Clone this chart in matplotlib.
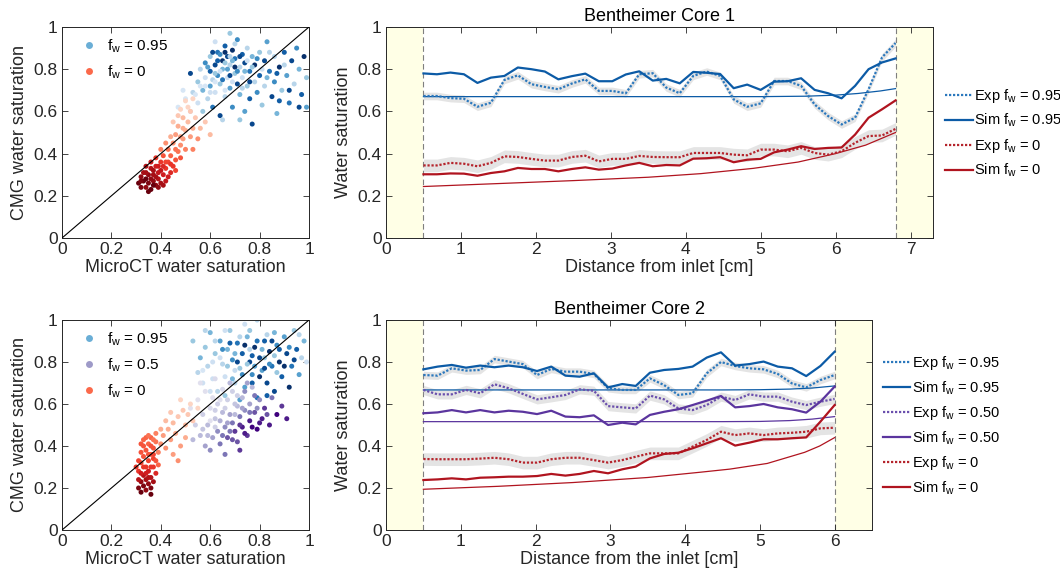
import numpy as np
import matplotlib
matplotlib.use("Agg")
import matplotlib.pyplot as plt
from matplotlib.lines import Line2D

plt.rcParams['font.family'] = ['Liberation Sans', 'DejaVu Sans']
plt.rcParams['mathtext.fontset'] = 'custom'
plt.rcParams['mathtext.rm'] = 'Liberation Sans'
plt.rcParams['mathtext.it'] = 'Liberation Sans'

# ---------------- scatter data (x = microCT, y = CMG, shade 0..1) ----------------
top_blue = [
    (0.52,0.78,0.9),(0.55,0.74,0.3),(0.56,0.80,0.2),(0.57,0.70,0.4),(0.58,0.76,0.1),(0.58,0.83,0.6),(0.59,0.66,0.2),(0.60,0.72,0.5),(0.60,0.79,0.8),(0.60,0.86,0.3),
    (0.61,0.62,0.7),(0.61,0.75,0.2),(0.62,0.82,0.9),(0.62,0.69,0.1),(0.63,0.77,0.6),(0.63,0.88,0.7),(0.64,0.58,0.9),(0.64,0.73,0.3),(0.65,0.84,1.0),(0.65,0.80,0.4),
    (0.66,0.67,0.2),(0.66,0.91,0.8),(0.67,0.76,0.1),(0.67,0.86,0.9),(0.68,0.71,0.5),(0.68,0.82,0.2),(0.69,0.62,0.6),(0.69,0.89,1.0),(0.70,0.78,0.3),(0.70,0.85,0.7),
    (0.71,0.73,0.9),(0.71,0.94,0.6),(0.72,0.81,0.2),(0.72,0.68,0.4),(0.73,0.87,0.8),(0.73,0.76,0.1),(0.74,0.60,0.5),(0.74,0.83,0.9),(0.75,0.72,0.3),(0.75,0.90,0.2),
    (0.76,0.79,0.7),(0.76,0.66,0.8),(0.77,0.86,0.4),(0.77,0.54,0.9),(0.78,0.74,0.2),(0.78,0.82,1.0),(0.79,0.69,0.6),(0.80,0.88,0.3),(0.80,0.77,0.8),(0.81,0.63,0.3),
    (0.82,0.84,0.9),(0.82,0.72,0.2),(0.83,0.93,0.5),(0.84,0.79,0.7),(0.85,0.67,0.9),(0.86,0.86,0.2),(0.86,0.74,0.6),(0.87,0.59,0.4),(0.88,0.81,1.0),(0.89,0.70,0.3),
    (0.90,0.88,0.8),(0.91,0.77,0.5),(0.92,0.64,0.7),(0.93,0.84,0.9),(0.94,0.73,0.2),(0.95,0.90,0.6),(0.96,0.80,0.4),(0.97,0.68,0.8),(0.98,0.86,1.0),(0.99,0.62,0.5),
    (0.99,0.76,0.3),(0.62,0.93,0.1),(0.68,0.97,0.3),(0.55,0.64,0.1),(0.53,0.69,0.2),(0.57,0.60,0.3),(0.65,0.56,0.2),(0.72,0.56,0.3),
    (0.47,0.62,0.05),(0.50,0.66,0.05),(0.52,0.60,0.1),(0.49,0.70,0.05),(0.54,0.68,0.05),(0.56,0.72,0.05),
    (0.59,0.81,0.5),(0.61,0.88,0.9),(0.62,0.78,0.3),(0.63,0.84,0.8),(0.64,0.79,0.1),(0.64,0.87,0.6),(0.65,0.75,0.7),(0.66,0.83,0.3),(0.66,0.88,1.0),(0.67,0.80,0.5),
    (0.68,0.86,0.2),(0.68,0.77,0.9),(0.69,0.84,0.4),(0.70,0.81,1.0),(0.70,0.92,0.2),(0.71,0.79,0.6),(0.72,0.86,0.9),(0.73,0.71,0.2),(0.74,0.79,0.4),(0.75,0.84,0.1),
    (0.76,0.74,0.9),(0.77,0.81,0.3),(0.79,0.85,0.6),(0.81,0.80,0.1),(0.83,0.76,0.4),(0.84,0.88,0.2),(0.87,0.78,0.8),(0.90,0.82,0.2),(0.62,0.74,0.05),(0.60,0.69,0.1),
    (0.58,0.72,0.05),(0.66,0.70,0.05),(0.69,0.74,0.1),(0.92,0.70,0.9),(0.96,0.62,0.9),(0.88,0.65,0.8),
]
top_red = [
    (0.31,0.26,1.0),(0.32,0.24,0.95),(0.32,0.29,0.9),(0.33,0.27,1.0),(0.33,0.31,0.85),(0.34,0.24,0.9),(0.34,0.28,1.0),(0.35,0.26,0.95),(0.35,0.30,0.9),(0.36,0.23,1.0),
    (0.36,0.33,0.8),(0.37,0.27,0.9),(0.37,0.30,0.85),(0.38,0.25,0.9),(0.38,0.34,0.7),(0.39,0.28,0.8),(0.39,0.31,0.75),(0.40,0.26,0.85),(0.40,0.36,0.6),(0.41,0.30,0.7),
    (0.41,0.39,0.5),(0.42,0.33,0.6),(0.42,0.27,0.75),(0.43,0.36,0.55),(0.43,0.42,0.4),(0.44,0.31,0.65),(0.44,0.39,0.45),(0.45,0.34,0.6),(0.45,0.45,0.3),(0.46,0.37,0.5),
    (0.46,0.49,0.25),(0.47,0.41,0.4),(0.47,0.53,0.2),(0.48,0.44,0.3),(0.48,0.38,0.5),(0.49,0.47,0.25),(0.49,0.57,0.15),(0.50,0.51,0.2),(0.50,0.42,0.35),(0.51,0.55,0.15),
    (0.52,0.48,0.25),(0.52,0.60,0.1),(0.53,0.52,0.2),(0.54,0.57,0.1),(0.55,0.47,0.3),(0.44,0.48,0.2),(0.42,0.45,0.3),(0.40,0.42,0.35),(0.45,0.55,0.1),(0.48,0.61,0.05),
    (0.50,0.65,0.05),(0.53,0.42,0.35),(0.56,0.52,0.15),(0.58,0.55,0.1),(0.60,0.49,0.15),(0.34,0.34,0.8),(0.36,0.36,0.7),(0.38,0.38,0.6),(0.35,0.22,1.0),(0.39,0.24,0.9),
    (0.37,0.32,0.85),(0.41,0.34,0.65),(0.43,0.29,0.7),(0.46,0.32,0.55),(0.47,0.58,0.1),(0.51,0.62,0.05),(0.53,0.66,0.05),(0.49,0.52,0.2),
    (0.32,0.27,0.95),(0.34,0.31,0.85),(0.36,0.28,0.9),(0.37,0.25,1.0),(0.38,0.29,0.85),(0.40,0.32,0.75),(0.42,0.36,0.55),(0.44,0.35,0.6),(0.46,0.42,0.4),(0.48,0.48,0.25),
    (0.39,0.34,0.7),(0.41,0.25,0.85),
]
bot_blue = [
    (0.53,0.90,0.3),(0.55,0.75,0.2),(0.56,0.82,0.4),(0.57,0.70,0.1),(0.58,0.87,0.3),(0.59,0.78,0.2),(0.60,0.94,0.4),(0.61,0.72,0.1),(0.62,0.84,0.3),(0.63,0.66,0.2),
    (0.64,0.90,0.5),(0.65,0.79,0.2),(0.66,0.73,0.1),(0.67,0.86,0.4),(0.68,0.95,0.3),(0.69,0.81,0.6),(0.70,0.70,0.2),(0.71,0.89,0.7),(0.72,0.77,0.3),(0.73,0.84,0.8),
    (0.74,0.68,0.5),(0.75,0.92,0.4),(0.76,0.80,0.9),(0.77,0.74,0.6),(0.78,0.87,1.0),(0.79,0.63,0.7),(0.80,0.82,0.9),(0.81,0.76,0.5),(0.82,0.90,0.8),(0.83,0.70,0.9),
    (0.84,0.85,1.0),(0.85,0.78,0.7),(0.86,0.66,0.9),(0.87,0.88,0.6),(0.88,0.80,1.0),(0.89,0.73,0.8),(0.90,0.92,0.5),(0.91,0.84,0.9),(0.92,0.68,1.0),(0.93,0.78,0.7),
    (0.94,0.95,0.3),(0.95,0.86,0.8),(0.96,0.74,0.5),(0.97,0.82,0.2),(0.98,0.90,0.4),(0.99,0.80,0.1),(0.79,1.00,0.2),(0.74,0.98,0.1),(0.60,0.66,0.1),(0.66,0.64,0.3),
    (0.72,0.62,0.5),(0.77,0.70,0.8),(0.83,0.64,0.8),(0.70,0.76,0.15),(0.64,0.82,0.1),(0.58,0.95,0.2),(0.76,0.86,0.2),(0.82,0.82,0.3),(0.87,0.75,0.3),(0.86,0.94,0.4),
    (0.62,0.90,0.2),(0.65,0.86,0.6),(0.67,0.78,0.3),(0.68,0.89,0.8),(0.70,0.84,0.4),(0.71,0.80,0.9),(0.72,0.92,0.2),(0.73,0.74,0.6),(0.74,0.88,1.0),(0.75,0.79,0.3),
    (0.76,0.95,0.3),(0.77,0.83,0.8),(0.78,0.78,0.5),(0.79,0.90,0.7),(0.80,0.73,1.0),(0.81,0.86,0.4),(0.82,0.77,0.9),(0.83,0.93,0.2),(0.84,0.79,0.6),(0.85,0.90,0.9),
    (0.86,0.83,0.3),(0.88,0.86,0.8),(0.90,0.78,1.0),(0.92,0.87,0.6),(0.94,0.81,0.9),(0.96,0.93,0.2),(0.66,0.95,0.1),(0.61,0.80,0.1),(0.57,0.76,0.05),(0.69,0.72,0.4),
]
bot_purple = [
    (0.52,0.58,0.1),(0.54,0.50,0.2),(0.55,0.62,0.1),(0.56,0.45,0.3),(0.57,0.55,0.2),(0.58,0.40,0.4),(0.58,0.66,0.1),(0.59,0.50,0.3),(0.60,0.58,0.15),(0.61,0.44,0.4),
    (0.61,0.63,0.1),(0.62,0.53,0.25),(0.63,0.47,0.5),(0.63,0.60,0.2),(0.64,0.41,0.6),(0.65,0.56,0.3),(0.65,0.67,0.15),(0.66,0.49,0.5),(0.67,0.62,0.2),(0.67,0.44,0.7),
    (0.68,0.55,0.4),(0.69,0.51,0.6),(0.69,0.66,0.2),(0.70,0.47,0.8),(0.71,0.59,0.3),(0.71,0.42,0.7),(0.72,0.54,0.6),(0.73,0.63,0.3),(0.73,0.49,0.9),(0.74,0.57,0.5),
    (0.75,0.45,0.8),(0.76,0.60,0.4),(0.76,0.52,0.9),(0.77,0.68,0.3),(0.78,0.56,0.7),(0.79,0.48,1.0),(0.80,0.62,0.5),(0.81,0.53,0.9),(0.82,0.58,0.8),(0.84,0.50,0.9),
    (0.85,0.63,0.6),(0.87,0.55,1.0),(0.89,0.59,0.8),(0.91,0.53,0.9),(0.72,0.38,0.8),(0.66,0.36,0.6),(0.60,0.38,0.5),(0.56,0.70,0.1),(0.62,0.72,0.15),(0.68,0.70,0.3),
    (0.74,0.66,0.5),(0.78,0.64,0.6),(0.64,0.52,0.35),(0.70,0.60,0.25),(0.75,0.70,0.4),(0.53,0.43,0.3),(0.57,0.48,0.25),
    (0.60,0.52,0.1),(0.62,0.57,0.2),(0.64,0.62,0.1),(0.66,0.58,0.2),(0.67,0.51,0.4),(0.68,0.47,0.6),(0.70,0.55,0.3),(0.72,0.50,0.8),(0.73,0.58,0.4),(0.74,0.46,0.9),
    (0.76,0.56,0.6),(0.77,0.49,1.0),(0.79,0.58,0.5),(0.80,0.51,0.9),(0.83,0.55,0.7),(0.65,0.45,0.6),(0.59,0.45,0.3),(0.62,0.49,0.2),(0.69,0.43,0.7),(0.71,0.64,0.2),
]
bot_red = [
    (0.31,0.20,0.95),(0.32,0.18,1.0),(0.32,0.23,0.9),(0.33,0.21,0.95),(0.33,0.26,0.8),(0.34,0.19,0.9),(0.34,0.24,0.85),(0.35,0.22,0.9),(0.35,0.28,0.7),(0.36,0.20,0.95),
    (0.36,0.25,0.8),(0.37,0.23,0.85),(0.37,0.30,0.6),(0.31,0.28,0.6),(0.32,0.32,0.55),(0.33,0.35,0.5),(0.34,0.30,0.6),(0.34,0.38,0.5),(0.35,0.33,0.55),(0.35,0.41,0.45),
    (0.36,0.36,0.5),(0.36,0.44,0.45),(0.37,0.39,0.5),(0.37,0.34,0.55),(0.38,0.42,0.4),(0.38,0.27,0.65),(0.33,0.40,0.5),(0.34,0.44,0.45),(0.32,0.37,0.5),(0.31,0.33,0.55),
    (0.39,0.37,0.35),(0.40,0.41,0.3),(0.41,0.45,0.25),(0.42,0.39,0.3),(0.43,0.48,0.2),(0.44,0.43,0.25),(0.45,0.51,0.15),(0.46,0.46,0.2),(0.47,0.54,0.1),(0.48,0.40,0.25),
    (0.49,0.57,0.1),(0.50,0.50,0.15),(0.51,0.55,0.1),(0.52,0.60,0.05),(0.53,0.52,0.1),(0.55,0.58,0.05),(0.45,0.36,0.25),(0.47,0.33,0.3),(0.42,0.52,0.15),(0.40,0.48,0.2),
    (0.44,0.56,0.1),(0.48,0.62,0.05),(0.50,0.44,0.2),(0.38,0.46,0.35),(0.36,0.17,1.0),(0.39,0.31,0.45),(0.37,0.43,0.4),
    (0.31,0.24,0.8),(0.32,0.27,0.7),(0.33,0.30,0.6),(0.34,0.27,0.7),(0.35,0.25,0.8),(0.35,0.36,0.5),(0.36,0.30,0.6),(0.36,0.40,0.5),(0.37,0.36,0.55),(0.33,0.43,0.45),
    (0.35,0.45,0.4),(0.38,0.33,0.5),(0.30,0.30,0.6),(0.32,0.41,0.5),
]

# ---------------- profile data, core 1 ----------------
c1_x = [0.50,0.68,0.86,1.04,1.22,1.40,1.58,1.76,1.94,2.12,2.30,2.48,2.66,2.84,3.02,3.20,3.38,3.56,
        3.74,3.92,4.10,4.28,4.46,4.64,4.82,5.00,5.18,5.36,5.54,5.72,5.90,6.08,6.26,6.44,6.62,6.80]
c1_exp95 = [0.673,0.673,0.663,0.660,0.622,0.641,0.749,0.771,0.729,0.716,0.705,0.732,0.752,0.697,0.697,0.686,0.776,0.781,
            0.713,0.686,0.768,0.789,0.768,0.657,0.622,0.638,0.744,0.744,0.721,0.633,0.578,0.538,0.570,0.705,0.856,0.924]
c1_sim95 = [0.780,0.776,0.784,0.776,0.735,0.760,0.768,0.808,0.800,0.789,0.752,0.767,0.779,0.743,0.743,0.775,0.790,0.746,
            0.754,0.733,0.787,0.783,0.777,0.710,0.727,0.702,0.741,0.743,0.757,0.702,0.686,0.662,0.721,0.800,0.832,0.851]
c1_exp0 = [0.344,0.344,0.356,0.352,0.340,0.356,0.387,0.384,0.375,0.367,0.367,0.384,0.390,0.363,0.375,0.375,0.389,0.384,
           0.383,0.383,0.403,0.403,0.403,0.395,0.392,0.419,0.419,0.411,0.427,0.403,0.395,0.411,0.451,0.483,0.486,0.517]
c1_sim0 = [0.302,0.302,0.306,0.305,0.295,0.308,0.316,0.332,0.327,0.327,0.316,0.327,0.335,0.324,0.329,0.344,0.356,0.340,
           0.346,0.344,0.376,0.378,0.383,0.359,0.371,0.375,0.406,0.419,0.435,0.422,0.427,0.429,0.490,0.570,0.610,0.652]
c1_mx = [0.5, 4.0, 5.0, 5.6, 6.0, 6.3, 6.6, 6.8]
c1_model95 = [0.670, 0.670, 0.670, 0.672, 0.677, 0.685, 0.697, 0.708]
c1_mx0 = [0.5, 1.5, 2.5, 3.5, 4.2, 4.9, 5.5, 6.0, 6.4, 6.8]
c1_model0 = [0.244, 0.258, 0.272, 0.288, 0.305, 0.330, 0.360, 0.400, 0.440, 0.500]

# ---------------- profile data, core 2 ----------------
c2_x = [0.50,0.69,0.88,1.07,1.26,1.45,1.64,1.83,2.02,2.21,2.40,2.59,2.78,2.97,3.16,3.34,3.53,3.72,
        3.91,4.10,4.29,4.48,4.67,4.86,5.05,5.24,5.43,5.62,5.81,6.00]
c2_exp95 = [0.738,0.735,0.770,0.759,0.762,0.814,0.802,0.790,0.738,0.767,0.754,0.754,0.743,0.675,0.667,0.667,0.722,0.690,
            0.643,0.651,0.746,0.800,0.781,0.770,0.765,0.743,0.698,0.679,0.714,0.738]
c2_sim95 = [0.765,0.778,0.786,0.773,0.783,0.775,0.783,0.775,0.757,0.778,0.735,0.730,0.746,0.679,0.695,0.686,0.749,0.762,
            0.767,0.778,0.821,0.846,0.783,0.790,0.802,0.778,0.770,0.733,0.781,0.849]
c2_exp50 = [0.667,0.646,0.646,0.667,0.651,0.694,0.675,0.648,0.622,0.632,0.643,0.670,0.663,0.590,0.584,0.579,0.640,0.622,
            0.579,0.571,0.595,0.635,0.619,0.646,0.635,0.635,0.611,0.595,0.611,0.624]
c2_sim50 = [0.556,0.560,0.571,0.560,0.571,0.560,0.568,0.563,0.552,0.568,0.540,0.537,0.546,0.500,0.511,0.503,0.548,0.563,
            0.575,0.595,0.616,0.638,0.584,0.590,0.600,0.584,0.575,0.559,0.611,0.683]
c2_exp0 = [0.338,0.337,0.337,0.337,0.340,0.344,0.337,0.321,0.321,0.337,0.344,0.344,0.333,0.321,0.333,0.349,0.365,0.365,
           0.365,0.397,0.429,0.468,0.452,0.460,0.452,0.460,0.463,0.468,0.484,0.487]
c2_sim0 = [0.238,0.241,0.246,0.241,0.249,0.251,0.254,0.254,0.257,0.267,0.259,0.267,0.281,0.270,0.289,0.302,0.341,0.362,
           0.368,0.389,0.413,0.437,0.402,0.416,0.432,0.432,0.437,0.441,0.516,0.595]
c2_mx = [0.5, 4.5, 5.0, 5.4, 5.7, 6.0]
c2_model95 = [0.667, 0.667, 0.668, 0.671, 0.676, 0.686]
c2_model50 = [0.516, 0.516, 0.517, 0.521, 0.528, 0.540]
c2_mx0 = [0.5, 1.5, 2.5, 3.5, 4.2, 4.6, 5.1, 5.6, 5.8, 6.0]
c2_model0 = [0.194, 0.208, 0.226, 0.250, 0.275, 0.290, 0.317, 0.370, 0.400, 0.440]

band95, band50, band0 = 0.018, 0.022, 0.03

blue_s, blue_e = '#0c5ba6', '#2b78bd'
purp_s, purp_e = '#5b359e', '#6a4fad'
red_s, red_e = '#b0141f', '#b5242c'
axcol = '#262626'
W, H = 1060, 585

fig = plt.figure(figsize=(W / 100, H / 100), dpi=100)


def box(l, t, r, b):
    return [l / W, (H - b) / H, (r - l) / W, (b - t) / H]


def style(ax):
    for s in ax.spines.values():
        s.set_color(axcol)
        s.set_linewidth(0.7)
    ax.tick_params(direction='in', top=True, right=True, length=4, width=0.6,
                   color=axcol, labelcolor=axcol, labelsize=12.5, pad=3)


def frac(v):
    return '%g' % v


def scatter_panel(rect, groups):
    ax = fig.add_axes(box(*rect))
    handles = []
    for pts, cmap, lab in groups:
        a = np.array(pts)
        cm = plt.get_cmap(cmap)
        ax.scatter(a[:, 0], a[:, 1], s=13, c=cm(0.12 + 0.88 * a[:, 2]), linewidths=0, zorder=2)
        handles.append(Line2D([], [], ls='none', marker='o', ms=5, mec='none', mfc=cm(0.5), label=lab))
    ax.plot([0, 1], [0, 1], color='k', lw=0.8, zorder=3)
    ax.set_xlim(0, 1)
    ax.set_ylim(0, 1)
    ticks = [0, 0.2, 0.4, 0.6, 0.8, 1]
    ax.set_xticks(ticks, [frac(t) for t in ticks])
    ax.set_yticks(ticks, [frac(t) for t in ticks])
    ax.set_xlabel('MicroCT water saturation', fontsize=13, color=axcol, labelpad=1)
    ax.set_ylabel('CMG water saturation', fontsize=13, color=axcol, labelpad=4)
    style(ax)
    ax.legend(handles=handles, loc='upper left', frameon=False, fontsize=11,
              handletextpad=0.4, borderaxespad=0.3, labelspacing=0.55, handlelength=1.5,
              bbox_to_anchor=(0.02, 1.0))
    return ax


def profile_panel(rect, xmax, xend, series, models, title, xlabel, leg_anchor):
    ax = fig.add_axes(box(*rect))
    ax.axvspan(0, 0.5, color='#ffffe6', zorder=0, lw=0)
    ax.axvspan(xend, xmax, color='#ffffe6', zorder=0, lw=0)
    for xv in (0.5, xend):
        ax.axvline(xv, color='#7f7f7f', lw=0.8, ls=(0, (5, 3)), zorder=1)
    for mx, my, col in models:
        ax.plot(mx, my, color=col, lw=0.9, zorder=2)
    handles = []
    for x, ye, ys, band, ce, cs, lab in series:
        ye = np.array(ye)
        ax.fill_between(x, ye - band, ye + band, color='#d9d9d9', alpha=0.7, lw=0, zorder=1.5)
        h1, = ax.plot(x, ye, color=ce, lw=1.6, ls=(0, (1, 0.8)), zorder=3,
                      label='Exp f$_{\\mathrm{w}}$ = ' + lab)
        h2, = ax.plot(x, ys, color=cs, lw=1.6, zorder=4,
                      label='Sim f$_{\\mathrm{w}}$ = ' + lab)
        handles += [h1, h2]
    ax.set_xlim(0, xmax)
    ax.set_ylim(0, 1)
    ax.set_xticks(range(int(xmax) + 1))
    ticks = [0, 0.2, 0.4, 0.6, 0.8, 1]
    ax.set_yticks(ticks, [frac(t) for t in ticks])
    ax.set_title(title, fontsize=13, color='k', pad=4)
    ax.set_xlabel(xlabel, fontsize=13, color=axcol, labelpad=1)
    ax.set_ylabel('Water saturation', fontsize=13, color=axcol, labelpad=4)
    style(ax)
    ax.legend(handles=handles, loc='upper left', bbox_to_anchor=leg_anchor, frameon=False,
              fontsize=10.5, handlelength=1.9, handletextpad=0.1, labelspacing=0.5,
              borderaxespad=0)
    return ax


scatter_panel((62, 27, 309, 238),
              [(top_blue, 'Blues', 'f$_{\\mathrm{w}}$ = 0.95'),
               (top_red, 'Reds', 'f$_{\\mathrm{w}}$ = 0')])
scatter_panel((62, 320, 309, 530),
              [(bot_blue, 'Blues', 'f$_{\\mathrm{w}}$ = 0.95'),
               (bot_purple, 'Purples', 'f$_{\\mathrm{w}}$ = 0.5'),
               (bot_red, 'Reds', 'f$_{\\mathrm{w}}$ = 0')])

profile_panel((386, 27, 933, 238), 7.3, 6.8,
              [(c1_x, c1_exp95, c1_sim95, band95, blue_e, blue_s, '0.95'),
               (c1_x, c1_exp0, c1_sim0, band0, red_e, red_s, '0')],
              [(c1_mx, c1_model95, blue_s), (c1_mx0, c1_model0, red_s)],
              'Bentheimer Core 1', 'Distance from inlet [cm]', (1.011, 0.745))
profile_panel((386, 320, 872, 530), 6.5, 6.0,
              [(c2_x, c2_exp95, c2_sim95, band95, blue_e, blue_s, '0.95'),
               (c2_x, c2_exp50, c2_sim50, band50, purp_e, purp_s, '0.50'),
               (c2_x, c2_exp0, c2_sim0, band0, red_e, red_s, '0')],
              [(c2_mx, c2_model95, blue_s), (c2_mx, c2_model50, purp_s), (c2_mx0, c2_model0, red_s)],
              'Bentheimer Core 2', 'Distance from the inlet [cm]', (1.01, 0.865))

fig.savefig('out.png', dpi=100)
